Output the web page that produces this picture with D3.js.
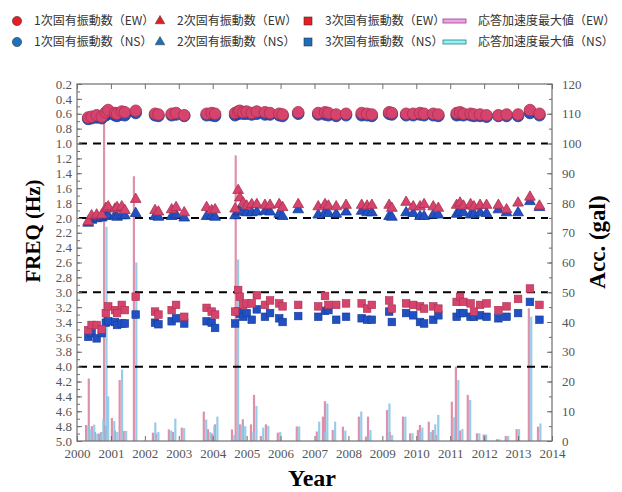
<!DOCTYPE html>
<html>
<head>
<meta charset="utf-8">
<script src="https://cdn.jsdelivr.net/npm/d3@7"></script>
<style>
body { margin: 0; background: #fff; }
svg text { font-family: "Liberation Serif", "DejaVu Serif", serif; }
</style>
</head>
<body>
<script>
// measurement epochs (decimal year) and natural frequencies (Hz)
var years = [2000.33,2000.43,2000.58,2000.73,2000.85,2000.92,2001.12,2001.18,2001.32,2001.41,
  2001.73,2002.30,2002.40,2002.79,2002.92,2003.16,2003.82,2003.97,2004.07,2004.66,
  2004.75,2004.80,2004.90,2005.00,2005.15,2005.30,2005.54,2005.69,2005.96,2006.06,
  2006.52,2007.11,2007.31,2007.41,2007.64,2007.93,2008.39,2008.55,2008.69,2009.20,
  2009.28,2009.70,2009.91,2010.11,2010.23,2010.50,2010.65,2011.19,2011.29,2011.39,
  2011.60,2011.70,2011.88,2012.07,2012.42,2012.66,2013.00,2013.35,2013.63];

var f1EW = [0.65,0.64,0.62,0.64,0.58,0.55,0.59,0.60,0.57,0.58,
  0.56,0.60,0.61,0.60,0.59,0.62,0.60,0.59,0.60,0.59,
  0.57,0.56,0.58,0.57,0.59,0.57,0.58,0.59,0.60,0.61,
  0.58,0.59,0.58,0.59,0.61,0.60,0.59,0.60,0.61,0.58,
  0.59,0.60,0.60,0.59,0.60,0.60,0.61,0.59,0.58,0.60,
  0.60,0.61,0.61,0.62,0.62,0.61,0.61,0.55,0.60];
var f1NS = [0.67,0.66,0.65,0.66,0.62,0.60,0.62,0.63,0.61,0.62,
  0.59,0.62,0.63,0.62,0.61,0.63,0.62,0.62,0.63,0.62,
  0.60,0.59,0.60,0.60,0.61,0.60,0.61,0.61,0.62,0.63,
  0.60,0.61,0.61,0.62,0.63,0.62,0.62,0.62,0.63,0.60,
  0.61,0.62,0.62,0.61,0.62,0.62,0.63,0.62,0.61,0.62,
  0.62,0.63,0.63,0.64,0.63,0.63,0.63,0.59,0.62];
var f2EW = [2.05,1.97,1.96,1.96,1.87,1.85,1.88,1.86,1.85,1.90,
  1.75,1.90,1.92,1.89,1.86,1.93,1.86,1.90,1.89,1.88,
  1.63,1.73,1.80,1.84,1.82,1.82,1.83,1.83,1.82,1.86,
  1.82,1.85,1.82,1.84,1.85,1.83,1.83,1.84,1.83,1.83,
  1.87,1.79,1.85,1.85,1.82,1.85,1.87,1.83,1.80,1.84,
  1.82,1.85,1.83,1.83,1.83,1.89,1.80,1.72,1.84];
var f2NS = [2.07,2.03,2.01,2.00,1.98,1.97,1.97,1.99,1.97,1.97,
  1.94,1.98,1.99,1.98,1.96,2.00,1.98,1.97,1.99,1.97,
  1.92,1.91,1.92,1.93,1.93,1.92,1.91,1.92,1.95,1.98,
  1.89,1.96,1.93,1.94,1.95,1.92,1.91,1.93,1.93,1.98,
  1.99,1.93,1.94,1.98,1.98,1.96,1.96,1.95,1.92,1.93,
  1.96,1.95,1.93,1.94,1.89,1.93,1.93,1.78,1.86];
var f3EW = [3.51,3.44,3.44,3.50,3.28,3.19,3.24,3.28,3.17,3.24,
  3.06,3.26,3.30,3.24,3.17,3.33,3.21,3.26,3.30,3.26,
  2.97,3.06,3.17,3.15,3.15,3.04,3.17,3.11,3.15,3.19,
  3.17,3.19,3.05,3.17,3.17,3.15,3.15,3.22,3.17,3.11,
  3.22,3.15,3.17,3.19,3.22,3.19,3.22,3.13,3.06,3.13,
  3.15,3.26,3.17,3.15,3.24,3.19,3.09,2.95,3.17];
var f3NS = [3.60,3.55,3.62,3.55,3.41,3.39,3.40,3.44,3.42,3.42,
  3.30,3.41,3.43,3.39,3.35,3.42,3.39,3.41,3.48,3.42,
  3.26,3.29,3.33,3.28,3.37,3.23,3.33,3.28,3.35,3.40,
  3.32,3.33,3.25,3.24,3.37,3.33,3.35,3.37,3.37,3.26,
  3.40,3.28,3.31,3.40,3.42,3.37,3.31,3.33,3.28,3.28,
  3.33,3.33,3.31,3.33,3.35,3.33,3.28,3.13,3.37];

// peak response acceleration (gal)
var accYears = [2000.30,2000.38,2000.47,2000.56,2000.68,2000.74,2000.83,2000.88,2001.06,2001.15,
  2001.29,2001.41,2001.71,2002.27,2002.36,2002.74,2002.86,2003.12,2003.77,2003.89,
  2004.01,2004.10,2004.60,2004.71,2004.83,2004.92,2005.16,2005.25,2005.45,2005.60,
  2005.95,2006.51,2007.10,2007.28,2007.34,2007.57,2007.87,2008.34,2008.55,2008.61,
  2009.17,2009.25,2009.64,2009.85,2010.08,2010.14,2010.40,2010.52,2010.61,2011.08,
  2011.20,2011.32,2011.55,2011.82,2012.02,2012.41,2012.67,2012.99,2013.35,2013.62];
var accEW = [5.4,21,5,3,2.5,3,107,5,7.7,3.5,
  20.5,3.4,89,2.8,2.5,3.9,3,4.5,9.9,4,
  2.5,5.6,3.9,96,5.6,7.3,5.6,15.5,1.7,5.6,
  2.8,4.9,3.2,8.2,13.4,3.7,4.8,8.2,1.5,8.2,
  10.4,3,8.2,2.6,3.7,5.4,6.5,3.7,2,13.2,
  25,3.5,15.5,2.6,2.2,0.6,1.7,4,44.6,4.8];
var accNS = [5,4,5.5,2.5,3,7.4,72,15,6.7,3,
  24,3.4,60,6.2,3,3.5,7.5,4.3,7.2,3,
  5,8.2,2,61,5.5,5,3,11.8,4.5,5.1,
  3,4.9,6.5,3,12.6,6.5,3.5,9.9,1,3.7,
  12.6,2,8.2,2.6,3,4.5,3,5.6,8.8,8,
  20.5,4,13.8,2.6,2.2,0.6,1.7,4,41.8,5.9];

var freqTicks = d3.range(2, 51, 2).map(function(d) { return d / 10; });
var accTicks = d3.range(0, 121, 10);
var yearTicks = d3.range(2000, 2015);
var guideLines = [1.0, 2.0, 3.0, 4.0];

var legendItems = [
  {shape: 'circle', col: '#ec1c24', text: '1次固有振動数（EW）', row: 0, x: 17},
  {shape: 'circle', col: '#1d72bd', text: '1次固有振動数（NS）', row: 1, x: 17},
  {shape: 'tri', col: '#e31e24', text: '2次固有振動数（EW）', row: 0, x: 160},
  {shape: 'tri', col: '#1d6fb8', text: '2次固有振動数（NS）', row: 1, x: 160},
  {shape: 'square', col: '#ec1c24', text: '3次固有振動数（EW）', row: 0, x: 308},
  {shape: 'square', col: '#1b6ebf', text: '3次固有振動数（NS）', row: 1, x: 308},
  {shape: 'line', col: '#eaa6e6', edge: '#9c3c8c', text: '応答加速度最大値（EW）', row: 0, x: 443},
  {shape: 'line', col: '#8ff4f4', edge: '#2b7b84', text: '応答加速度最大値（NS）', row: 1, x: 443}
];

var width = 622, height = 492;
var plotL = 77, plotR = 552, plotT = 84, plotB = 441;

var pinkFill = '#d6436d', pinkEdge = '#a8304f';
var blueFill = '#2150c4', blueEdge = '#173c93';

var svg = d3.select('body').append('svg')
  .attr('width', width)
  .attr('height', height);

var x = d3.scaleLinear().domain([2000, 2014]).range([plotL, plotR]);
var yf = d3.scaleLinear().domain([0.2, 5.0]).range([plotT, plotB]);
var ya = d3.scaleLinear().domain([0, 120]).range([plotB, plotT]);

// acceleration bars
var bars = svg.append('g');
bars.selectAll('rect.ew')
  .data(accYears)
  .enter().append('rect')
  .attr('class', 'ew')
  .attr('x', function(d) { return x(d) - 2.2; })
  .attr('y', function(d, i) { return ya(accEW[i]); })
  .attr('width', 2.2)
  .attr('height', function(d, i) { return plotB - ya(accEW[i]); })
  .attr('fill', '#d886a3')
  .attr('opacity', 0.9);
bars.selectAll('rect.ns')
  .data(accYears)
  .enter().append('rect')
  .attr('class', 'ns')
  .attr('x', function(d) { return x(d) + 0.2; })
  .attr('y', function(d, i) { return ya(accNS[i]); })
  .attr('width', 2.2)
  .attr('height', function(d, i) { return plotB - ya(accNS[i]); })
  .attr('fill', '#8cc7e6')
  .attr('opacity', 0.9);

// dashed guide lines
svg.selectAll('line.guide')
  .data(guideLines)
  .enter().append('line')
  .attr('x1', plotL + 2)
  .attr('x2', plotR - 4)
  .attr('y1', function(d) { return yf(d); })
  .attr('y2', function(d) { return yf(d); })
  .attr('stroke', '#000')
  .attr('stroke-width', 2)
  .attr('stroke-dasharray', '8,6');

var marks = svg.append('g');

function drawCircles(vals, fill, edge) {
  marks.append('g').selectAll('circle')
    .data(years)
    .enter().append('circle')
    .attr('cx', function(d) { return x(d); })
    .attr('cy', function(d, i) { return yf(vals[i]); })
    .attr('r', 5.8)
    .attr('fill', fill)
    .attr('stroke', edge)
    .attr('stroke-width', 0.8);
}

function drawTriangles(vals, fill, edge) {
  marks.append('g').selectAll('path')
    .data(years)
    .enter().append('path')
    .attr('d', d3.symbol().type(d3.symbolTriangle).size(50))
    .attr('transform', function(d, i) {
      return 'translate(' + x(d) + ',' + yf(vals[i]) + ')';
    })
    .attr('fill', fill)
    .attr('stroke', edge)
    .attr('stroke-width', 0.8);
}

function drawSquares(vals, fill, edge) {
  marks.append('g').selectAll('rect')
    .data(years)
    .enter().append('rect')
    .attr('x', function(d) { return x(d) - 3.8; })
    .attr('y', function(d, i) { return yf(vals[i]) - 3.8; })
    .attr('width', 7.6)
    .attr('height', 7.6)
    .attr('fill', fill)
    .attr('stroke', edge)
    .attr('stroke-width', 0.6);
}

drawCircles(f1NS, blueFill, blueEdge);
drawCircles(f1EW, pinkFill, pinkEdge);
drawTriangles(f2NS, blueFill, blueEdge);
drawTriangles(f2EW, pinkFill, pinkEdge);
drawSquares(f3NS, blueFill, blueEdge);
drawSquares(f3EW, pinkFill, pinkEdge);

// axes
var axisCol = '#6e6e6e', labelCol = '#555';

function styleAxis(g) {
  g.select('.domain').remove();
  g.selectAll('line').attr('stroke', axisCol);
  g.selectAll('text')
    .attr('fill', labelCol)
    .style('font-size', '13px');
}

svg.append('g')
  .attr('transform', 'translate(' + plotL + ',0)')
  .call(d3.axisLeft(yf).tickValues(d3.range(2, 51).map(function(d) { return d / 10; }))
    .tickSize(-3).tickFormat(''))
  .call(styleAxis);
svg.append('g')
  .attr('transform', 'translate(' + plotL + ',0)')
  .call(d3.axisLeft(yf).tickValues(freqTicks).tickSize(-5).tickPadding(5)
    .tickFormat(d3.format('.1f')))
  .call(styleAxis);

svg.append('g')
  .attr('transform', 'translate(' + plotR + ',0)')
  .call(d3.axisRight(ya).tickValues(d3.range(0, 121, 5)).tickSize(-3).tickFormat(''))
  .call(styleAxis);
svg.append('g')
  .attr('transform', 'translate(' + plotR + ',0)')
  .call(d3.axisRight(ya).tickValues(accTicks).tickSize(-5).tickPadding(10)
    .tickFormat(d3.format('d')))
  .call(styleAxis);

svg.append('g')
  .attr('transform', 'translate(0,' + plotB + ')')
  .call(d3.axisBottom(x).tickValues(yearTicks).tickSize(-5).tickPadding(8)
    .tickFormat(d3.format('d')))
  .call(styleAxis);
svg.append('g')
  .attr('transform', 'translate(0,' + plotT + ')')
  .call(d3.axisTop(x).tickValues(yearTicks).tickSize(-5).tickFormat(''))
  .call(styleAxis);

svg.append('rect')
  .attr('x', plotL)
  .attr('y', plotT)
  .attr('width', plotR - plotL)
  .attr('height', plotB - plotT)
  .attr('fill', 'none')
  .attr('stroke', axisCol)
  .attr('stroke-width', 1.2);

// axis titles
svg.append('text')
  .attr('transform', 'translate(40,231) rotate(-90)')
  .attr('text-anchor', 'middle')
  .style('font-size', '21px')
  .style('font-weight', 'bold')
  .text('FREQ (Hz)');

svg.append('text')
  .attr('transform', 'translate(605,242) rotate(-90)')
  .attr('text-anchor', 'middle')
  .style('font-size', '23px')
  .style('font-weight', 'bold')
  .text('Acc. (gal)');

svg.append('text')
  .attr('x', 312)
  .attr('y', 486)
  .attr('text-anchor', 'middle')
  .style('font-size', '24px')
  .style('font-weight', 'bold')
  .text('Year');

// legend
var rowY = [21, 42];
var legend = svg.append('g');
legendItems.forEach(function(d) {
  var cy = rowY[d.row];
  if (d.shape == 'circle') {
    legend.append('circle')
      .attr('cx', d.x).attr('cy', cy).attr('r', 4.6)
      .attr('fill', d.col).attr('stroke', '#333').attr('stroke-width', 0.6);
  } else if (d.shape == 'tri') {
    legend.append('path')
      .attr('d', d3.symbol().type(d3.symbolTriangle).size(40))
      .attr('transform', 'translate(' + d.x + ',' + cy + ')')
      .attr('fill', d.col).attr('stroke', '#333').attr('stroke-width', 0.5);
  } else if (d.shape == 'square') {
    legend.append('rect')
      .attr('x', d.x - 4).attr('y', cy - 4).attr('width', 8).attr('height', 8)
      .attr('fill', d.col).attr('stroke', '#333').attr('stroke-width', 0.6);
  } else {
    legend.append('rect')
      .attr('x', d.x).attr('y', cy - 2).attr('width', 23).attr('height', 4)
      .attr('fill', d.col).attr('stroke', d.edge).attr('stroke-width', 0.8);
  }
  legend.append('text')
    .attr('x', d.shape == 'line' ? d.x + 35 : d.x + 17)
    .attr('y', cy + 4)
    .style('font-family', '"Noto Sans CJK JP", sans-serif')
    .style('font-size', '12px')
    .attr('fill', '#333')
    .text(d.text);
});
</script>
</body>
</html>
